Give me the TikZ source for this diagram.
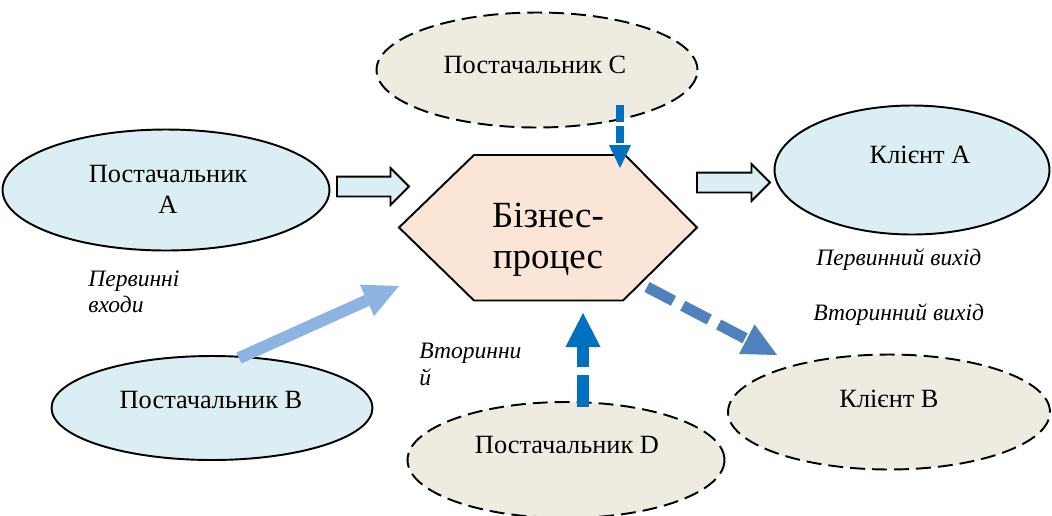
\documentclass[tikz,border=0pt]{standalone}
\usepackage{fontspec}
\setmainfont{Liberation Serif}
\usetikzlibrary{shapes.geometric,shapes.arrows,arrows.meta}

\definecolor{paleblue}{HTML}{DAEEF3}
\definecolor{paletan}{HTML}{EEECE1}
\definecolor{peach}{HTML}{FBE5D6}
\definecolor{deepblue}{HTML}{0070C0}
\definecolor{steelblue}{HTML}{4F81BD}
\definecolor{skyblue}{HTML}{8DB3E2}

\begin{document}
\begin{tikzpicture}[x=0.02cm, y=-0.02cm,
  party/.style={ellipse, draw=black, line width=1.1pt, inner sep=0pt},
  primary/.style={party, fill=paleblue},
  secondary/.style={party, fill=paletan, dash pattern=on 8.5pt off 4pt},
  ptext/.style={anchor=base, inner sep=0pt, font=\fontsize{15}{18}\selectfont},
  bigtext/.style={anchor=base, inner sep=0pt, font=\fontsize{21}{24}\selectfont},
  notetext/.style={anchor=base west, inner sep=0pt, font=\fontsize{13.4}{16}\selectfont\itshape},
  blockarrow/.style={single arrow, draw=black, line width=1.1pt, fill=paleblue,
    inner xsep=0pt, inner ysep=0.18cm, single arrow head extend=0.17cm,
    outer sep=0pt, anchor=tail},
  flow/.style={line width=#1, line cap=butt},
]
\useasboundingbox (0,0) rectangle (1052,515);
\clip (0,0) rectangle (1052,515);

% suppliers and clients
\node[primary,   minimum width=6.54cm, minimum height=2.42cm] (pA) at (166,190) {};
\node[secondary, minimum width=6.42cm, minimum height=2.30cm] (pC) at (537,70)  {};
\node[primary,   minimum width=5.50cm, minimum height=2.58cm] (kA) at (912,170) {};
\node[primary,   minimum width=6.42cm, minimum height=2.08cm] (pB) at (212,408) {};
\node[secondary, minimum width=6.34cm, minimum height=2.32cm] (pD) at (566,460) {};
\node[secondary, minimum width=6.44cm, minimum height=2.30cm] (kB) at (889,412) {};

% business process hexagon
\coordinate (hW)  at (399,227.5);
\coordinate (hNW) at (474,155);
\coordinate (hNE) at (625,155);
\coordinate (hE)  at (697,227.5);
\coordinate (hSE) at (623,300.5);
\coordinate (hSW) at (474,300.5);
\draw[fill=peach, line width=1.1pt, line join=miter]
  (hW) -- (hNW) -- (hNE) -- (hE) -- (hSE) -- (hSW) -- cycle;

% primary flows
\node[blockarrow, minimum height=1.44cm] (inA)  at (337,186.5) {};
\node[blockarrow, minimum height=1.46cm] (outA) at (697,182.5) {};

% secondary flows
\coordinate (cS) at (620,105);
\coordinate (cT) at (620,168);
\draw[flow=4pt, deepblue, dash pattern=on 9.5pt off 2.5pt,
  -{Triangle[width=12.5pt, length=13pt, line width=0pt]}] (cS) -- (cT);

\coordinate (dS) at (583,407);
\coordinate (dT) at (583,313);
\draw[flow=6.8pt, deepblue, dash pattern=on 18pt off 4.5pt,
  -{Triangle[width=20pt, length=19.4pt, line width=0pt]}] (dS) -- (dT);

\coordinate (bS) at (239,358);
\coordinate (bT) at (399,286);
\draw[flow=6.8pt, skyblue,
  -{Triangle[width=19.6pt, length=20pt, line width=0pt]}] (bS) -- (bT);

\coordinate (oS) at (647,287);
\coordinate (oT) at (777,355);
\draw[flow=6.3pt, steelblue, dash pattern=on 17pt off 6pt,
  -{Triangle[width=19pt, length=19.4pt, line width=0pt]}] (oS) -- (oT);

% names
\node[ptext] (tA1) at (168,182) {Постачальник};
\node[ptext] (tA2) at (168,213) {A};
\node[ptext] (tC)  at (535,73)  {Постачальник C};
\node[ptext] (tKA) at (920,163) {Клієнт A};
\node[ptext] (tB)  at (211,408) {Постачальник B};
\node[ptext] (tD)  at (567,453) {Постачальник D};
\node[ptext] (tKB) at (889,407) {Клієнт B};
\node[bigtext] (bp1) at (548,227) {Бізнес-};
\node[bigtext] (bp2) at (548,268) {процес};

% flow captions
\node[notetext] (n1) at (88,286)  {Первинні};
\node[notetext] (n2) at (88,312)  {входи};
\node[notetext] (n3) at (816,265) {Первинний вихід};
\node[notetext] (n4) at (813,320) {Вторинний вихід};
\node[notetext] (n5) at (419,358) {Вторинни};
\node[notetext] (n6) at (419,385) {й};
\end{tikzpicture}
\end{document}
